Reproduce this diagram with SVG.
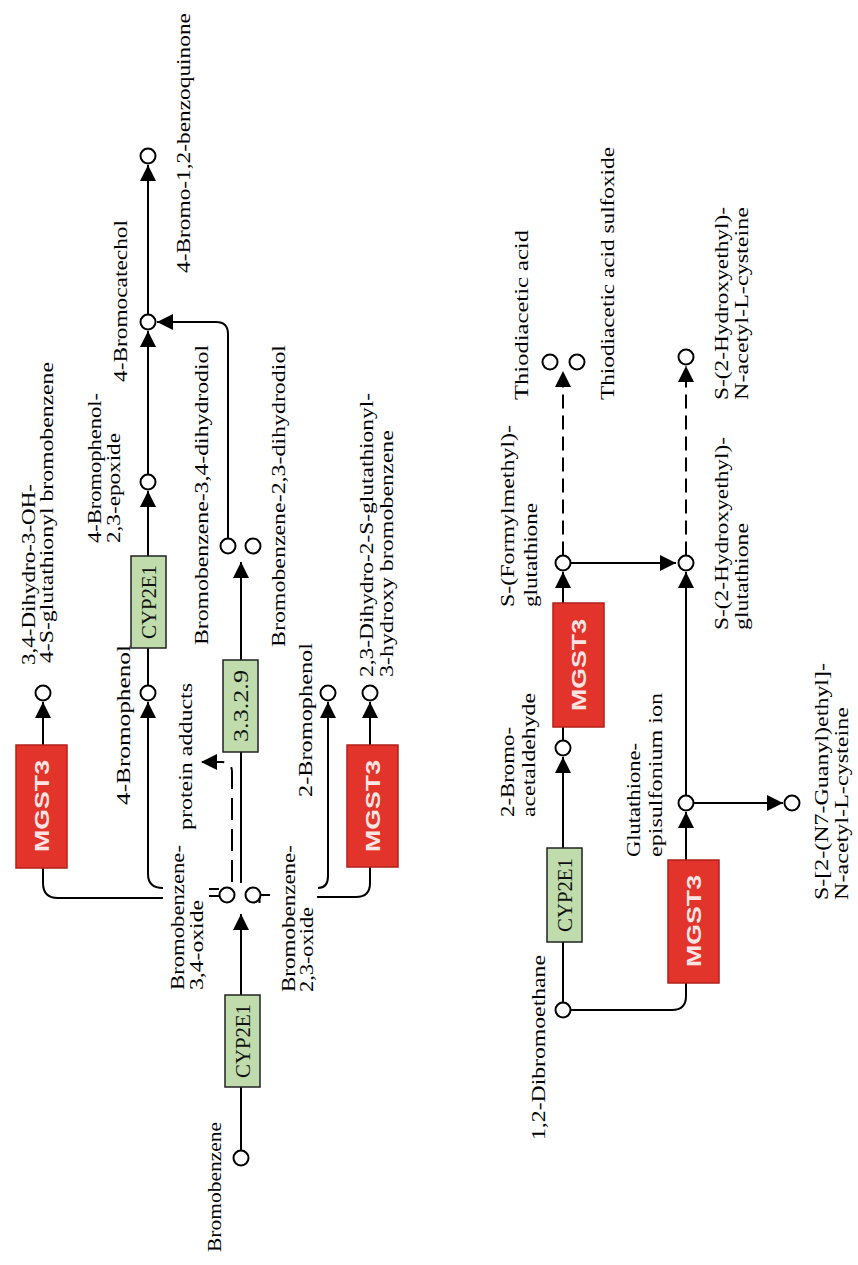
<svg xmlns="http://www.w3.org/2000/svg" width="858" height="1265" viewBox="0 0 858 1265">
  <defs>
    <style>
      .ln { stroke:#000; stroke-width:2; fill:none; }
      .dl { stroke:#000; stroke-width:2; fill:none; stroke-dasharray:14 7; }
      .dl2 { stroke:#000; stroke-width:2; fill:none; stroke-dasharray:22 9; }
      .cpd { fill:#fff; stroke:#000; stroke-width:2; }
      .lbl { font-family:"Liberation Serif", "Times New Roman", serif; font-size:18.5px; fill:#000; }
      .enz { fill:#c0dcac; stroke:#222; stroke-width:1.5; }
      .enzt { font-family:"Liberation Serif", "Times New Roman", serif; font-size:22px; fill:#111; text-anchor:middle; }
      .gene { fill:#e3342b; stroke:#b3211b; stroke-width:1.5; }
      .genet { font-family:"Liberation Sans", Arial, sans-serif; font-weight:bold; font-size:21px; fill:#fbe4e4; text-anchor:middle; }
    </style>
    <marker id="ah" viewBox="0 0 16 16" refX="16" refY="8" markerWidth="16" markerHeight="16" orient="auto" markerUnits="userSpaceOnUse">
      <path d="M0,0 L16,8 L0,16 Z" fill="#000"/>
    </marker>
  </defs>
  <rect width="858" height="1265" fill="#fff"/>

  <!-- reaction lines -->
  <g id="connectors">
    <!-- bromobenzene branch -->
    <path class="ln" d="M241,1150.5 L241,1087"/>
    <path class="ln" d="M241,995 L241,914" marker-end="url(#ah)"/>
    <path class="ln" d="M241,883 L241,752"/>
    <path class="ln" d="M241,660 L241,562" marker-end="url(#ah)"/>
    <path class="dl2" d="M232,882 L232,772 Q232,762 222,762 L201,762" marker-end="url(#ah)"/>
    <path class="ln" d="M209,889 L219,889 M209,896 L219,896"/>
    <path class="ln" d="M163,888 Q148,888 148,874 L148,702" marker-end="url(#ah)"/>
    <path class="ln" d="M163,898 L58,898 Q43,898 43,883 L43,868"/>
    <path class="ln" d="M43,745 L43,702" marker-end="url(#ah)"/>
    <path class="ln" d="M148,685.5 L148,648"/>
    <path class="ln" d="M148,556 L148,491" marker-end="url(#ah)"/>
    <path class="ln" d="M148,474.5 L148,331" marker-end="url(#ah)"/>
    <path class="ln" d="M148,314.5 L148,165" marker-end="url(#ah)"/>
    <path class="ln" d="M228,538.5 L228,334 Q228,322 216,322 L157,322" marker-end="url(#ah)"/>
    <path class="ln" d="M261,895 L270,895 M259.5,896 L259.5,903"/>
    <path class="ln" d="M318,888 Q328,888 328,876 L328,702" marker-end="url(#ah)"/>
    <path class="ln" d="M317,897 L356,897 Q370,897 370,883 L370,867"/>
    <path class="ln" d="M370,745 L370,702" marker-end="url(#ah)"/>

    <!-- 1,2-dibromoethane branch -->
    <path class="ln" d="M563,1002.5 L563,942"/>
    <path class="ln" d="M563,848 L563,757" marker-end="url(#ah)"/>
    <path class="ln" d="M570.5,1010 L672,1010 Q686,1010 686,996 L686,983"/>
    <path class="ln" d="M686,860 L686,812" marker-end="url(#ah)"/>
    <path class="ln" d="M692.5,803 L783,803" marker-end="url(#ah)"/>
    <path class="ln" d="M686,795.5 L686,572" marker-end="url(#ah)"/>
    <path class="ln" d="M563,740.5 L563,727"/>
    <path class="ln" d="M563,603 L563,572" marker-end="url(#ah)"/>
    <path class="ln" d="M570.5,563 L676,563" marker-end="url(#ah)"/>
    <path class="dl" d="M563,555.5 L563,371" marker-end="url(#ah)"/>
    <path class="dl" d="M686,555.5 L686,366" marker-end="url(#ah)"/>
  </g>

  <!-- enzymes -->
  <g id="cyp2e1-a"><rect class="enz" x="225" y="995" width="35" height="92"/>
    <text class="enzt" x="250" y="1041" transform="rotate(-90 250 1041)" textLength="74" lengthAdjust="spacingAndGlyphs">CYP2E1</text></g>
  <g id="cyp2e1-b"><rect class="enz" x="131" y="556" width="35" height="92"/>
    <text class="enzt" x="156" y="602" transform="rotate(-90 156 602)" textLength="74" lengthAdjust="spacingAndGlyphs">CYP2E1</text></g>
  <g id="ec3329"><rect class="enz" x="223" y="660" width="35" height="92"/>
    <text class="enzt" x="248" y="706" transform="rotate(-90 248 706)" textLength="72" lengthAdjust="spacingAndGlyphs">3.3.2.9</text></g>
  <g id="mgst3-a"><rect class="gene" x="16" y="745" width="51" height="123"/>
    <text class="genet" x="49" y="806" transform="rotate(-90 49 806)" textLength="92" lengthAdjust="spacingAndGlyphs">MGST3</text></g>
  <g id="mgst3-b"><rect class="gene" x="347" y="745" width="51" height="122"/>
    <text class="genet" x="380" y="806" transform="rotate(-90 380 806)" textLength="92" lengthAdjust="spacingAndGlyphs">MGST3</text></g>
  <g id="cyp2e1-c"><rect class="enz" x="547" y="848" width="35" height="94"/>
    <text class="enzt" x="572" y="895" transform="rotate(-90 572 895)" textLength="74" lengthAdjust="spacingAndGlyphs">CYP2E1</text></g>
  <g id="mgst3-c"><rect class="gene" x="553" y="603" width="51" height="124"/>
    <text class="genet" x="586" y="665" transform="rotate(-90 586 665)" textLength="92" lengthAdjust="spacingAndGlyphs">MGST3</text></g>
  <g id="mgst3-d"><rect class="gene" x="668" y="860" width="51" height="123"/>
    <text class="genet" x="701" y="921" transform="rotate(-90 701 921)" textLength="92" lengthAdjust="spacingAndGlyphs">MGST3</text></g>

  <!-- compounds -->
  <g id="bromobenzene"><circle class="cpd" cx="241" cy="1158" r="7.5"/>
    <text class="lbl" x="221" y="1252" transform="rotate(-90 221 1252)" textLength="130" lengthAdjust="spacingAndGlyphs">Bromobenzene</text></g>
  <g id="bromobenzene-34-oxide"><circle class="cpd" cx="227" cy="895" r="7.5"/>
    <text class="lbl" x="184" y="990" transform="rotate(-90 184 990)" textLength="145" lengthAdjust="spacingAndGlyphs">Bromobenzene-</text>
    <text class="lbl" x="203" y="990" transform="rotate(-90 203 990)" textLength="90" lengthAdjust="spacingAndGlyphs">3,4-oxide</text></g>
  <g id="bromobenzene-23-oxide"><circle class="cpd" cx="253" cy="895" r="7.5"/>
    <text class="lbl" x="295" y="992" transform="rotate(-90 295 992)" textLength="147" lengthAdjust="spacingAndGlyphs">Bromobenzene-</text>
    <text class="lbl" x="313" y="992" transform="rotate(-90 313 992)" textLength="85" lengthAdjust="spacingAndGlyphs">2,3-oxide</text></g>
  <g id="protein-adducts">
    <text class="lbl" x="192" y="830" transform="rotate(-90 192 830)" textLength="147" lengthAdjust="spacingAndGlyphs">protein adducts</text></g>
  <g id="dihydro-34-glutathionyl"><circle class="cpd" cx="43" cy="693" r="7.5"/>
    <text class="lbl" x="35" y="665" transform="rotate(-90 35 665)" textLength="181" lengthAdjust="spacingAndGlyphs">3,4-Dihydro-3-OH-</text>
    <text class="lbl" x="53" y="663" transform="rotate(-90 53 663)" textLength="301" lengthAdjust="spacingAndGlyphs">4-S-glutathionyl bromobenzene</text></g>
  <g id="bromophenol-4"><circle class="cpd" cx="148" cy="693" r="7.5"/>
    <text class="lbl" x="130" y="805" transform="rotate(-90 130 805)" textLength="160" lengthAdjust="spacingAndGlyphs">4-Bromophenol</text></g>
  <g id="bromophenol-epoxide"><circle class="cpd" cx="148" cy="482" r="7.5"/>
    <text class="lbl" x="101" y="543" transform="rotate(-90 101 543)" textLength="150" lengthAdjust="spacingAndGlyphs">4-Bromophenol-</text>
    <text class="lbl" x="120" y="543" transform="rotate(-90 120 543)" textLength="110" lengthAdjust="spacingAndGlyphs">2,3-epoxide</text></g>
  <g id="bromocatechol"><circle class="cpd" cx="148" cy="322" r="7.5"/>
    <text class="lbl" x="127" y="382" transform="rotate(-90 127 382)" textLength="162" lengthAdjust="spacingAndGlyphs">4-Bromocatechol</text></g>
  <g id="bromo-benzoquinone"><circle class="cpd" cx="148" cy="156" r="7.5"/>
    <text class="lbl" x="190" y="273" transform="rotate(-90 190 273)" textLength="260" lengthAdjust="spacingAndGlyphs">4-Bromo-1,2-benzoquinone</text></g>
  <g id="dihydrodiol-34"><circle class="cpd" cx="228" cy="546" r="7.5"/>
    <text class="lbl" x="208" y="645" transform="rotate(-90 208 645)" textLength="300" lengthAdjust="spacingAndGlyphs">Bromobenzene-3,4-dihydrodiol</text></g>
  <g id="dihydrodiol-23"><circle class="cpd" cx="253" cy="546" r="7.5"/>
    <text class="lbl" x="285" y="647" transform="rotate(-90 285 647)" textLength="302" lengthAdjust="spacingAndGlyphs">Bromobenzene-2,3-dihydrodiol</text></g>
  <g id="bromophenol-2"><circle class="cpd" cx="328" cy="693" r="7.5"/>
    <text class="lbl" x="312" y="797" transform="rotate(-90 312 797)" textLength="154" lengthAdjust="spacingAndGlyphs">2-Bromophenol</text></g>
  <g id="dihydro-23-glutathionyl"><circle class="cpd" cx="370" cy="693" r="7.5"/>
    <text class="lbl" x="373" y="677" transform="rotate(-90 373 677)" textLength="284" lengthAdjust="spacingAndGlyphs">2,3-Dihydro-2-S-glutathionyl-</text>
    <text class="lbl" x="393" y="677" transform="rotate(-90 393 677)" textLength="247" lengthAdjust="spacingAndGlyphs">3-hydroxy bromobenzene</text></g>

  <g id="dibromoethane"><circle class="cpd" cx="563" cy="1010" r="7.5"/>
    <text class="lbl" x="545" y="1140" transform="rotate(-90 545 1140)" textLength="185" lengthAdjust="spacingAndGlyphs">1,2-Dibromoethane</text></g>
  <g id="bromoacetaldehyde"><circle class="cpd" cx="563" cy="748" r="7.5"/>
    <text class="lbl" x="514" y="817" transform="rotate(-90 514 817)" textLength="90" lengthAdjust="spacingAndGlyphs">2-Bromo-</text>
    <text class="lbl" x="535" y="817" transform="rotate(-90 535 817)" textLength="124" lengthAdjust="spacingAndGlyphs">acetaldehyde</text></g>
  <g id="formylmethyl-glutathione"><circle class="cpd" cx="563" cy="563" r="7.5"/>
    <text class="lbl" x="514" y="607" transform="rotate(-90 514 607)" textLength="182" lengthAdjust="spacingAndGlyphs">S-(Formylmethyl)-</text>
    <text class="lbl" x="537" y="607" transform="rotate(-90 537 607)" textLength="104" lengthAdjust="spacingAndGlyphs">glutathione</text></g>
  <g id="thiodiacetic-acid"><circle class="cpd" cx="550" cy="362" r="7.5"/>
    <text class="lbl" x="528" y="400" transform="rotate(-90 528 400)" textLength="170" lengthAdjust="spacingAndGlyphs">Thiodiacetic acid</text></g>
  <g id="thiodiacetic-sulfoxide"><circle class="cpd" cx="577" cy="362" r="7.5"/>
    <text class="lbl" x="614" y="400" transform="rotate(-90 614 400)" textLength="253" lengthAdjust="spacingAndGlyphs">Thiodiacetic acid sulfoxide</text></g>
  <g id="hydroxyethyl-glutathione"><circle class="cpd" cx="686" cy="563" r="7.5"/>
    <text class="lbl" x="728" y="630" transform="rotate(-90 728 630)" textLength="193" lengthAdjust="spacingAndGlyphs">S-(2-Hydroxyethyl)-</text>
    <text class="lbl" x="748" y="630" transform="rotate(-90 748 630)" textLength="107" lengthAdjust="spacingAndGlyphs">glutathione</text></g>
  <g id="hydroxyethyl-acetylcysteine"><circle class="cpd" cx="686" cy="357" r="7.5"/>
    <text class="lbl" x="728" y="400" transform="rotate(-90 728 400)" textLength="193" lengthAdjust="spacingAndGlyphs">S-(2-Hydroxyethyl)-</text>
    <text class="lbl" x="748" y="400" transform="rotate(-90 748 400)" textLength="193" lengthAdjust="spacingAndGlyphs">N-acetyl-L-cysteine</text></g>
  <g id="episulfonium-ion"><circle class="cpd" cx="686" cy="803" r="7.5"/>
    <text class="lbl" x="640" y="857" transform="rotate(-90 640 857)" textLength="114" lengthAdjust="spacingAndGlyphs">Glutathione-</text>
    <text class="lbl" x="662" y="857" transform="rotate(-90 662 857)" textLength="164" lengthAdjust="spacingAndGlyphs">episulfonium ion</text></g>
  <g id="guanylethyl-acetylcysteine"><circle class="cpd" cx="792" cy="803" r="7.5"/>
    <text class="lbl" x="828" y="900" transform="rotate(-90 828 900)" textLength="237" lengthAdjust="spacingAndGlyphs">S-[2-(N7-Guanyl)ethyl]-</text>
    <text class="lbl" x="848" y="900" transform="rotate(-90 848 900)" textLength="193" lengthAdjust="spacingAndGlyphs">N-acetyl-L-cysteine</text></g>
</svg>
